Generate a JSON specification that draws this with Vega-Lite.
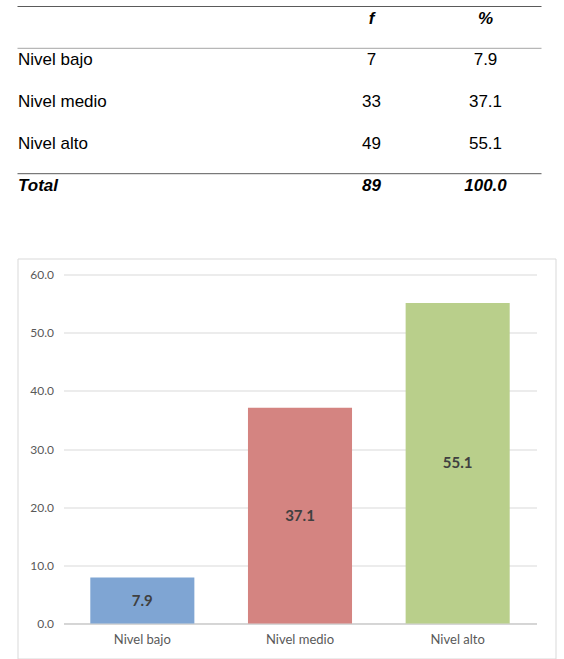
{
  "$schema": "https://vega.github.io/schema/vega-lite/v6.json",
  "padding": {"left": 16.5, "top": 5.5, "right": 0, "bottom": 0},
  "spacing": 42,
  "config": {"view": {"stroke": null}, "font": "Liberation Sans"},
  "datasets": {
    "tabla": [
      {"fila": "Nivel bajo", "f": 7, "pct": 7.9},
      {"fila": "Nivel medio", "f": 33, "pct": 37.1},
      {"fila": "Nivel alto", "f": 49, "pct": 55.1},
      {"fila": "Total", "f": 89, "pct": 100.0}
    ],
    "lineas": [
      {"fila": "Encabezado"},
      {"fila": "Nivel bajo"},
      {"fila": "Total"}
    ],
    "cabecera": [
      {"col": "f", "etiqueta": "f"},
      {"col": "pct", "etiqueta": "%"}
    ]
  },
  "vconcat": [
    {
      "width": 524,
      "height": 209,
      "layer": [
        {
          "data": {"name": "lineas"},
          "mark": {"type": "rule", "strokeWidth": 1},
          "encoding": {
            "y": {
              "field": "fila", "type": "nominal", "bandPosition": 0,
              "scale": {"type": "band", "domain": ["Encabezado", "Nivel bajo", "Nivel medio", "Nivel alto", "Total"], "paddingInner": 0, "paddingOuter": 0},
              "axis": {
                "title": null, "domain": false, "ticks": false, "grid": false, "tickSize": 0,
                "labelOffset": -3.9, "labelAlign": "left", "labelBaseline": "alphabetic", "labelPadding": 0,
                "labelFont": "Liberation Sans", "labelFontSize": 17, "labelColor": "#000000",
                "labelExpr": "datum.value == 'Encabezado' ? '' : datum.label",
                "labelFontWeight": {"condition": {"test": "datum.value == 'Total'", "value": "bold"}, "value": "normal"},
                "labelFontStyle": {"condition": {"test": "datum.value == 'Total'", "value": "italic"}, "value": "normal"}
              }
            },
            "color": {"condition": {"test": "datum.fila == 'Nivel bajo'", "value": "#a6a6a6"}, "value": "#5a5a5a"}
          }
        },
        {
          "data": {"name": "cabecera"},
          "mark": {"type": "text", "fontSize": 17, "fontWeight": "bold", "fontStyle": "italic", "baseline": "alphabetic", "align": "center", "color": "#000000"},
          "encoding": {
            "x": {"field": "col", "type": "nominal", "scale": {"type": "point", "domain": ["f", "pct"], "range": [354, 468], "padding": 0}, "axis": null},
            "y": {"datum": "Encabezado", "type": "nominal", "bandPosition": 0.407},
            "text": {"field": "etiqueta", "type": "nominal"}
          }
        },
        {
          "data": {"name": "tabla"},
          "transform": [{"filter": "datum.fila != 'Total'"}],
          "mark": {"type": "text", "fontSize": 17, "baseline": "alphabetic", "align": "center", "color": "#000000"},
          "encoding": {
            "x": {"datum": "f", "type": "nominal"},
            "y": {"field": "fila", "type": "nominal", "bandPosition": 0.407},
            "text": {"field": "f", "type": "quantitative", "format": "d"}
          }
        },
        {
          "data": {"name": "tabla"},
          "transform": [{"filter": "datum.fila != 'Total'"}],
          "mark": {"type": "text", "fontSize": 17, "baseline": "alphabetic", "align": "center", "color": "#000000"},
          "encoding": {
            "x": {"datum": "pct", "type": "nominal"},
            "y": {"field": "fila", "type": "nominal", "bandPosition": 0.407},
            "text": {"field": "pct", "type": "quantitative", "format": ".1f"}
          }
        },
        {
          "data": {"name": "tabla"},
          "transform": [{"filter": "datum.fila == 'Total'"}],
          "mark": {"type": "text", "fontSize": 17, "fontWeight": "bold", "fontStyle": "italic", "baseline": "alphabetic", "align": "center", "color": "#000000"},
          "encoding": {
            "x": {"datum": "f", "type": "nominal"},
            "y": {"field": "fila", "type": "nominal", "bandPosition": 0.407},
            "text": {"field": "f", "type": "quantitative", "format": "d"}
          }
        },
        {
          "data": {"name": "tabla"},
          "transform": [{"filter": "datum.fila == 'Total'"}],
          "mark": {"type": "text", "fontSize": 17, "fontWeight": "bold", "fontStyle": "italic", "baseline": "alphabetic", "align": "center", "color": "#000000"},
          "encoding": {
            "x": {"datum": "pct", "type": "nominal"},
            "y": {"field": "fila", "type": "nominal", "bandPosition": 0.407},
            "text": {"field": "pct", "type": "quantitative", "format": ".1f"}
          }
        }
      ]
    },
    {
      "width": 538,
      "height": 400,
      "view": {"stroke": "#d9d9d9", "strokeWidth": 1},
      "data": {"name": "tabla"},
      "transform": [{"filter": "datum.fila != 'Total'"}],
      "layer": [
        {
          "mark": {"type": "bar"},
          "encoding": {
            "x": {
              "field": "fila", "type": "nominal", "sort": ["Nivel bajo", "Nivel medio", "Nivel alto"],
              "scale": {"range": [46, 519], "paddingInner": 0.34, "paddingOuter": 0.17},
              "axis": {"orient": "bottom", "offset": -35, "title": null, "labelAngle": 0, "domainColor": "#bfbfbf", "domainWidth": 1, "ticks": false, "labelPadding": 10, "labelFont": "Lato", "labelFontSize": 13, "labelColor": "#595959", "grid": false}
            },
            "y": {
              "field": "pct", "type": "quantitative",
              "scale": {"domain": [0, 60], "range": [365, 16], "nice": false},
              "axis": {"offset": -46, "title": null, "values": [0, 10, 20, 30, 40, 50, 60], "format": ".1f", "domain": false, "ticks": false, "labelPadding": 10, "labelFont": "Lato", "labelFontSize": 12, "labelColor": "#595959", "grid": true, "gridColor": "#d9d9d9", "gridWidth": 1}
            },
            "color": {
              "field": "fila", "type": "nominal",
              "scale": {"domain": ["Nivel bajo", "Nivel medio", "Nivel alto"], "range": ["#7fa5d3", "#d48481", "#b9cf8b"]},
              "legend": null
            }
          }
        },
        {
          "mark": {"type": "text", "font": "Lato", "fontWeight": "bold", "fontSize": 15, "color": "#404040", "baseline": "middle", "align": "center"},
          "encoding": {
            "x": {"field": "fila", "type": "nominal", "sort": ["Nivel bajo", "Nivel medio", "Nivel alto"]},
            "y": {"field": "pct", "type": "quantitative", "scale": {"domain": [0, 120], "range": [365, 16], "nice": false}, "axis": null},
            "text": {"field": "pct", "type": "quantitative", "format": ".1f"}
          }
        }
      ],
      "resolve": {"scale": {"y": "independent"}}
    }
  ]
}
